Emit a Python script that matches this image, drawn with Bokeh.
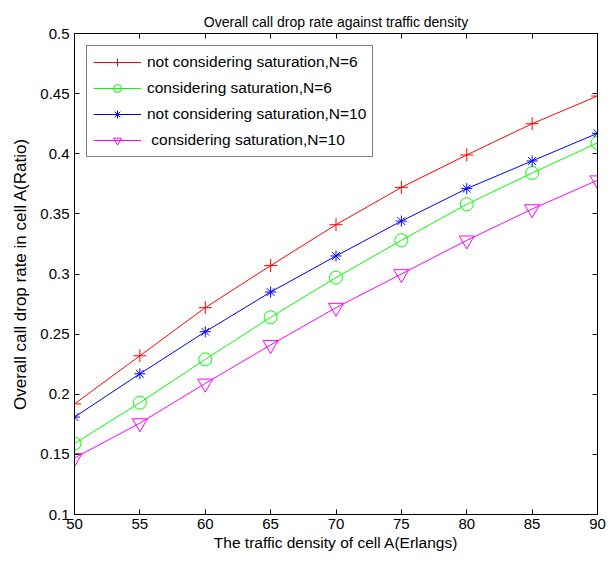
from bokeh.plotting import figure
from bokeh.models import Legend, LegendItem, LinearAxis, Range1d, FixedTicker
from bokeh.embed import file_html
from bokeh.resources import INLINE

traffic = [50, 55, 60, 65, 70, 75, 80, 85, 90]
red_not_sat_n6 = [0.192, 0.232, 0.272, 0.307, 0.341, 0.372, 0.399, 0.425, 0.448]
green_sat_n6 = [0.159, 0.193, 0.229, 0.264, 0.297, 0.328, 0.358, 0.384, 0.409]
blue_not_sat_n10 = [0.181, 0.217, 0.252, 0.285, 0.315, 0.344, 0.371, 0.394, 0.417]
magenta_sat_n10 = [0.147, 0.176, 0.209, 0.241, 0.272, 0.300, 0.328, 0.354, 0.378]

labels = ["not considering saturation,N=6", "considering saturation,N=6",
          "not considering saturation,N=10", " considering saturation,N=10"]
x_ticks = [50, 55, 60, 65, 70, 75, 80, 85, 90]
y_ticks = [0.1, 0.15, 0.2, 0.25, 0.3, 0.35, 0.4, 0.45, 0.5]

FONT = "Liberation Sans"

p = figure(width=613, height=565, output_backend="svg", toolbar_location=None,
           x_range=Range1d(50, 90), y_range=Range1d(0.1, 0.5),
           min_border_left=74, min_border_right=16, min_border_top=33, min_border_bottom=51,
           title="Overall call drop rate against traffic density")
p.title.align = "center"
p.title.text_font = FONT
p.title.text_font_size = "14px"
p.title.text_font_style = "normal"
p.title.text_color = "black"
p.title.offset = 0
p.title.standoff = 8

p.outline_line_color = "black"
p.outline_line_width = 1
p.grid.visible = False
p.background_fill_color = "white"
p.border_fill_color = "white"

for ax in (p.xaxis[0], p.yaxis[0]):
    ax.major_tick_in = 5
    ax.major_tick_out = 0
    ax.minor_tick_in = 0
    ax.minor_tick_out = 0
    ax.axis_line_color = "black"
    ax.major_tick_line_color = "black"
    ax.major_label_text_font = FONT
    ax.major_label_text_font_size = "15px"
    ax.major_label_text_color = "black"
    ax.axis_label_text_font = FONT
    ax.axis_label_text_font_style = "normal"
    ax.axis_label_text_color = "black"

p.xaxis[0].axis_label_text_font_size = "15.5px"
p.yaxis[0].axis_label_text_font_size = "17px"
p.xaxis[0].ticker = FixedTicker(ticks=x_ticks)
p.yaxis[0].ticker = FixedTicker(ticks=y_ticks)
p.xaxis[0].axis_label = "The traffic density of cell A(Erlangs)"
p.yaxis[0].axis_label = "Overall call drop rate in cell A(Ratio)"
p.xaxis[0].major_label_standoff = 4
p.xaxis[0].axis_label_standoff = 2
p.yaxis[0].major_label_standoff = 5
p.yaxis[0].axis_label_standoff = 7

top_ax = LinearAxis(ticker=FixedTicker(ticks=x_ticks), major_label_text_font_size="0px",
                    major_tick_in=5, major_tick_out=0, minor_tick_in=0, minor_tick_out=0,
                    axis_line_color="black")
right_ax = LinearAxis(ticker=FixedTicker(ticks=y_ticks), major_label_text_font_size="0px",
                      major_tick_in=5, major_tick_out=0, minor_tick_in=0, minor_tick_out=0,
                      axis_line_color="black")
top_ax.major_label_text_color = None
right_ax.major_label_text_color = None
p.add_layout(top_ax, "above")
p.add_layout(right_ax, "right")

series = [
    (red_not_sat_n6, "#ff0000", "cross", 13),
    (green_sat_n6, "#00ff00", "circle", 13),
    (blue_not_sat_n10, "#0000ff", "asterisk", 11),
    (magenta_sat_n10, "#ff00ff", "inverted_triangle", 15),
]
items = []
for (ys, color, marker, size), label in zip(series, labels):
    ln = p.line(traffic, ys, line_color=color, line_width=1)
    sc = p.scatter(traffic, ys, marker=marker, size=size, line_color=color,
                   fill_color=None, line_width=1)
    items.append(LegendItem(label=label, renderers=[ln, sc]))

legend = Legend(items=items, location="top_left")
legend.margin = 12
legend.padding = 6
legend.spacing = 6
legend.label_height = 20
legend.glyph_height = 20
legend.glyph_width = 48
legend.label_standoff = 6
legend.label_text_font = FONT
legend.label_text_font_size = "15.5px"
legend.label_text_color = "black"
legend.border_line_color = "black"
legend.border_line_width = 1
legend.background_fill_color = "white"
legend.background_fill_alpha = 1
p.add_layout(legend, "center")

open("out.html", "w").write(file_html(p, INLINE))
